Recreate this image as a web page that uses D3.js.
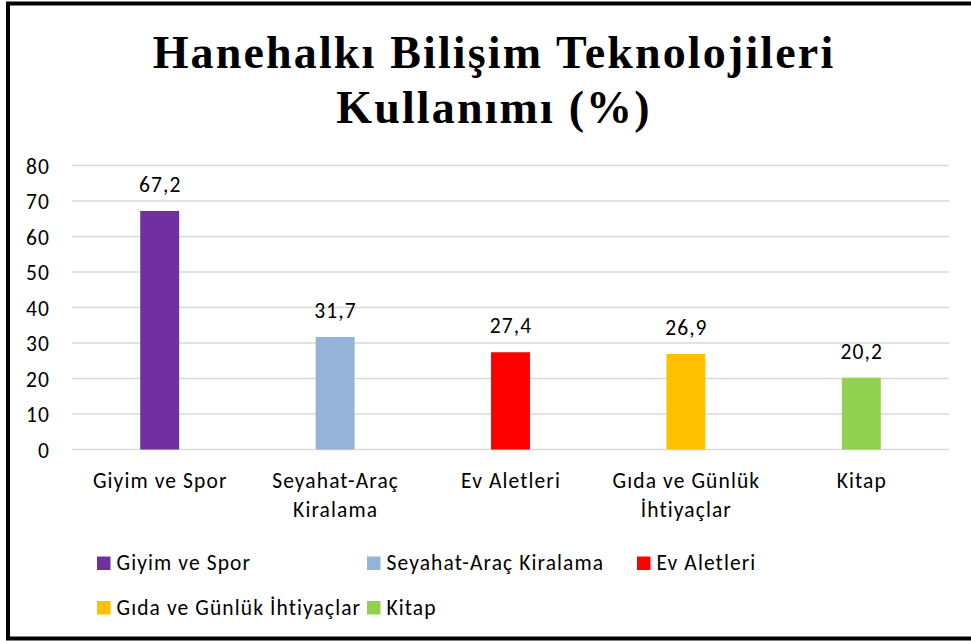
<!DOCTYPE html>
<html>
<head>
<meta charset="utf-8">
<script src="https://cdn.jsdelivr.net/npm/d3@7"></script>
<style>
  body { margin: 0; background: #fff; }
  svg { display: block; }
</style>
</head>
<body>
<script>
var titleLines = ["Hanehalkı Bilişim Teknolojileri", "Kullanımı (%)"];
var categories = ["Giyim ve Spor", "Seyahat-Araç Kiralama", "Ev Aletleri", "Gıda ve Günlük İhtiyaçlar", "Kitap"];
var values = [67.2, 31.7, 27.4, 26.9, 20.2];
var colors = ["#7030A0", "#95B3D7", "#FF0000", "#FFC000", "#92D050"];
var yTicks = [0, 10, 20, 30, 40, 50, 60, 70, 80];

var W = 971, H = 641;
var font = "Calibri, Carlito, Lato, sans-serif";
var fontSize = "21.5px";
var spacing = "1.1px";

var svg = d3.select("body").append("svg")
    .attr("width", W)
    .attr("height", H);

// outer frame (right side is cut off in the original)
svg.append("path")
    .attr("d", "M980,3.5 H8 V638.5 H980")
    .attr("fill", "none")
    .attr("stroke", "#000")
    .attr("stroke-width", 4);

// title
svg.append("g").selectAll("text")
    .data(titleLines)
    .enter()
    .append("text")
    .attr("x", 494)
    .attr("y", function(d, i) { return 68 + i * 55; })
    .attr("text-anchor", "middle")
    .style("font-family", "'Liberation Serif', 'Times New Roman', serif")
    .style("font-weight", "bold")
    .style("font-size", "46px")
    .style("letter-spacing", "2.15px")
    .text(function(d) { return d; });

var xScale = d3.scaleBand()
    .domain(categories)
    .range([72, 949])
    .paddingInner(0.778)
    .paddingOuter(0.389);

var yScale = d3.scaleLinear()
    .domain([0, 80])
    .range([449.5, 165.5]);

// gridlines
svg.append("g").selectAll("line")
    .data(yTicks)
    .enter()
    .append("line")
    .attr("x1", 72)
    .attr("x2", 949)
    .attr("y1", function(d) { return yScale(d); })
    .attr("y2", function(d) { return yScale(d); })
    .attr("stroke", "#d9d9d9")
    .attr("stroke-width", 1.3);

// y axis labels
var yAxis = d3.axisLeft(yScale).tickValues(yTicks).tickSize(0).tickPadding(0);
var yg = svg.append("g")
    .attr("transform", "translate(50,0)")
    .call(yAxis);
yg.select(".domain").remove();
yg.selectAll("text")
    .style("font-family", font)
    .style("font-size", fontSize)
    .style("letter-spacing", spacing)
    .attr("fill", "#000")
    .attr("dy", "0.35em");

// bars
svg.append("g").selectAll("rect")
    .data(values)
    .enter()
    .append("rect")
    .attr("x", function(d, i) { return xScale(categories[i]); })
    .attr("y", function(d) { return yScale(d); })
    .attr("width", xScale.bandwidth())
    .attr("height", function(d) { return yScale(0) - yScale(d); })
    .attr("fill", function(d, i) { return colors[i]; });

// value labels
svg.append("g").selectAll("text")
    .data(values)
    .enter()
    .append("text")
    .attr("x", function(d, i) { return xScale(categories[i]) + xScale.bandwidth() / 2 + 0.5; })
    .attr("y", function(d) { return yScale(d) - 19; })
    .attr("text-anchor", "middle")
    .style("font-family", font)
    .style("font-size", fontSize)
    .style("letter-spacing", spacing)
    .text(function(d) { return d.toFixed(1).replace(".", ","); });

// category labels, wrapped like the original
var step = xScale.step();
var catG = svg.append("g");
categories.forEach(function(c, i) {
    var t = catG.append("text")
        .attr("text-anchor", "middle")
        .style("font-family", font)
        .style("font-size", fontSize)
        .style("letter-spacing", spacing);
    var cx = xScale(c) + xScale.bandwidth() / 2 + 0.5;
    var words = c.split(" ");
    var lines = [];
    var line = [];
    var probe = t.append("tspan");
    words.forEach(function(w) {
        line.push(w);
        probe.text(line.join(" "));
        if (probe.node().getComputedTextLength() > step * 0.92 && line.length > 1) {
            line.pop();
            lines.push(line.join(" "));
            line = [w];
        }
    });
    lines.push(line.join(" "));
    probe.remove();
    lines.forEach(function(l, j) {
        t.append("tspan")
            .attr("x", cx)
            .attr("y", 488 + j * 28.5)
            .text(l);
    });
});

// legend
var legendX = [97, 367, 637];
var leg = svg.append("g").selectAll("g")
    .data(categories)
    .enter()
    .append("g")
    .attr("transform", function(d, i) {
        return "translate(" + legendX[i % 3] + "," + (556.5 + Math.floor(i / 3) * 44.5) + ")";
    });
leg.append("rect")
    .attr("width", 13.5)
    .attr("height", 13.5)
    .attr("fill", function(d, i) { return colors[i]; });
leg.append("text")
    .attr("x", 19.5)
    .attr("y", 13.5)
    .style("font-family", font)
    .style("font-size", fontSize)
    .style("letter-spacing", spacing)
    .text(function(d) { return d; });
</script>
</body>
</html>
